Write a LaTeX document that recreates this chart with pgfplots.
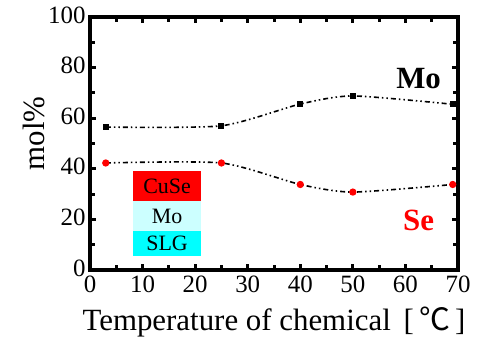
\documentclass[border=0pt]{standalone}
\usepackage{pgfplots}
\pgfplotsset{compat=1.18}
\usepackage{fontspec}
\setmainfont{Liberation Serif}
\newfontfamily\cjk{Noto Sans CJK JP}
\definecolor{cyanA}{RGB}{0,255,255}
\definecolor{cyanL}{RGB}{204,255,255}
\begin{document}
\begin{tikzpicture}[x=1bp,y=1bp]
\begin{axis}[name=ax,
  scale only axis, width=368bp, height=253bp,
  xmin=0, xmax=70, ymin=0, ymax=100,
  xtick={0,10,...,70}, ytick={0,20,...,100},
  minor xtick={5,15,...,65}, minor ytick={10,30,...,90},
  tick align=inside, major tick length=6bp, minor tick length=5bp,
  tick style={line width=3bp,black},
  ticklabel style={font=\fontsize{25}{28}\selectfont},
  yticklabel style={xshift=-1bp, yshift=2bp},
  xticklabel style={yshift=-2bp},
  /pgf/number format/assume math mode=true,
  xlabel={Temperature of chemical \,[\,{\cjk ℃}\,]},
  xlabel style={font=\fontsize{31}{34}\selectfont, yshift=-8bp},
  ylabel={mol\%},
  ylabel style={font=\fontsize{31}{34}\selectfont, yshift=-4bp, xshift=10bp},
  clip=false,
]
\fill[red] (axis cs:8.2,27.3) rectangle (axis cs:21.1,39);
\fill[cyanL] (axis cs:8.2,15.4) rectangle (axis cs:21.1,27.3);
\fill[cyanA] (axis cs:8.2,5.5) rectangle (axis cs:21.1,15.4);
\node[font=\fontsize{22}{24}\selectfont] at (axis cs:14.65,33.1) {CuSe};
\node[font=\fontsize{22}{24}\selectfont] at (axis cs:14.65,21.3) {Mo};
\node[font=\fontsize{22}{24}\selectfont] at (axis cs:14.65,10.4) {SLG};
\addplot[black, line width=1.6bp, smooth, tension=0.4,
  dash pattern=on 5bp off 3bp on 1.5bp off 3bp on 1.5bp off 3bp,
  mark=square*, mark size=2.2bp, mark options={solid}]
  coordinates {(3,56.5) (25,57) (40,65.6) (50,68.8) (69,65.5)};
\addplot[black, line width=1.6bp, smooth, tension=0.4,
  dash pattern=on 5bp off 3bp on 1.5bp off 3bp on 1.5bp off 3bp,
  mark=*, mark size=2.8bp, mark options={solid, red, draw=red}]
  coordinates {(3,42.3) (25,42.3) (40,33.8) (50,30.8) (69,33.8)};
\node[font=\fontsize{31}{34}\selectfont\bfseries] at (axis cs:62.5,75.5) {Mo};
\node[font=\fontsize{31}{34}\selectfont\bfseries, text=red] at (axis cs:62.5,19.5) {Se};
\draw[line width=4bp] (rel axis cs:0,0) rectangle (rel axis cs:1,1);
\end{axis}
\pgfresetboundingbox
\path (ax.south west) ++(-90bp,-72bp) coordinate (a);
\path (ax.north east) ++(23bp,17bp) coordinate (b);
\path[use as bounding box] (a) rectangle (b);
\end{tikzpicture}
\end{document}
